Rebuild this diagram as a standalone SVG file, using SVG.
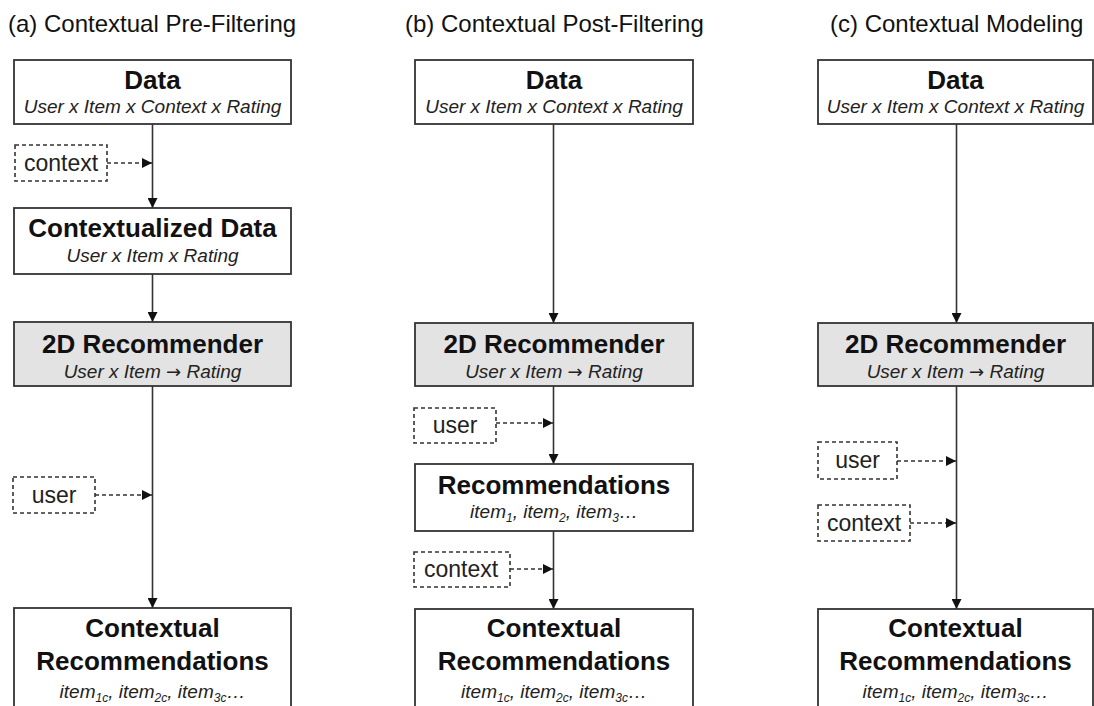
<svg xmlns="http://www.w3.org/2000/svg" width="1094" height="706" viewBox="0 0 1094 706">
  <defs>
    <style>
      text { font-family: "Liberation Sans", Arial, sans-serif; fill: #111; }
      .hdr { font-size: 24px; }
      .ttl { font-size: 26px; font-weight: bold; text-anchor: middle; }
      .sub { font-size: 19px; font-style: italic; text-anchor: middle; fill: #222; }
      .sm { font-size: 12px; }
      .arw { font-family: "DejaVu Sans", sans-serif; font-style: normal; font-size: 18px; }
      .lbl { font-size: 23px; text-anchor: middle; fill: #222; }
      .box { fill: #fff; stroke: #333; stroke-width: 1.8; }
      .gray { fill: #e3e3e3; }
      .dbox { fill: #fff; stroke: #333; stroke-width: 1.6; stroke-dasharray: 4 3; }
      .flow { stroke: #333; stroke-width: 1.6; fill: none; marker-end: url(#arr); }
      .dflow { stroke: #333; stroke-width: 1.6; fill: none; stroke-dasharray: 4 3; marker-end: url(#arr); }
    </style>
    <marker id="arr" viewBox="0 0 10 10" refX="10" refY="5" markerWidth="10" markerHeight="10" markerUnits="userSpaceOnUse" orient="auto">
      <path d="M0,0 L10,5 L0,10 z" fill="#111"/>
    </marker>
  </defs>

  <!-- column headings -->
  <text class="hdr" x="8" y="32">(a) Contextual Pre-Filtering</text>
  <text class="hdr" x="405" y="32">(b) Contextual Post-Filtering</text>
  <text class="hdr" x="830" y="32">(c) Contextual Modeling</text>

  <!-- connectors -->
  <g id="connectors">
    <!-- (a) -->
    <line class="flow" x1="152.5" y1="124" x2="152.5" y2="208"/>
    <line class="flow" x1="152.5" y1="274" x2="152.5" y2="322"/>
    <line class="flow" x1="152.5" y1="386" x2="152.5" y2="608"/>
    <line class="dflow" x1="107" y1="163" x2="152" y2="163"/>
    <line class="dflow" x1="95" y1="495" x2="152" y2="495"/>
    <!-- (b) -->
    <line class="flow" x1="553.5" y1="124" x2="553.5" y2="323"/>
    <line class="flow" x1="553.5" y1="386" x2="553.5" y2="464"/>
    <line class="flow" x1="553.5" y1="531" x2="553.5" y2="609"/>
    <line class="dflow" x1="496" y1="423" x2="553" y2="423"/>
    <line class="dflow" x1="510" y1="569" x2="553" y2="569"/>
    <!-- (c) -->
    <line class="flow" x1="956.5" y1="124" x2="956.5" y2="323"/>
    <line class="flow" x1="956.5" y1="386" x2="956.5" y2="609"/>
    <line class="dflow" x1="897" y1="461" x2="956" y2="461"/>
    <line class="dflow" x1="910" y1="523" x2="956" y2="523"/>
  </g>

  <!-- (a) Contextual Pre-Filtering -->
  <g id="a-data">
    <rect class="box" x="14" y="60" width="277" height="64"/>
    <text class="ttl" x="152.5" y="89">Data</text>
    <text class="sub" x="152.5" y="113">User x Item x Context x Rating</text>
  </g>
  <g id="a-context">
    <rect class="dbox" x="15" y="145" width="92" height="36"/>
    <text class="lbl" x="61" y="171">context</text>
  </g>
  <g id="a-contextualized">
    <rect class="box" x="14" y="208" width="277" height="66"/>
    <text class="ttl" x="152.5" y="237">Contextualized Data</text>
    <text class="sub" x="152.5" y="262">User x Item x Rating</text>
  </g>
  <g id="a-recommender">
    <rect class="box gray" x="14" y="322" width="277" height="64"/>
    <text class="ttl" x="152.5" y="353">2D Recommender</text>
    <text class="sub" x="152.5" y="378">User x Item <tspan class="arw">→</tspan> Rating</text>
  </g>
  <g id="a-user">
    <rect class="dbox" x="13" y="477" width="82" height="36"/>
    <text class="lbl" x="54" y="503">user</text>
  </g>
  <g id="a-result">
    <rect class="box" x="14" y="608" width="277" height="110"/>
    <text class="ttl" x="152.5" y="637">Contextual</text>
    <text class="ttl" x="152.5" y="670">Recommendations</text>
    <text class="sub" x="152.5" y="698">item<tspan class="sm" dy="4">1c</tspan><tspan dy="-4">, item</tspan><tspan class="sm" dy="4">2c</tspan><tspan dy="-4">, item</tspan><tspan class="sm" dy="4">3c</tspan><tspan dy="-4">…</tspan></text>
  </g>

  <!-- (b) Contextual Post-Filtering -->
  <g id="b-data">
    <rect class="box" x="415" y="60" width="278" height="64"/>
    <text class="ttl" x="554" y="89">Data</text>
    <text class="sub" x="554" y="113">User x Item x Context x Rating</text>
  </g>
  <g id="b-recommender">
    <rect class="box gray" x="415" y="323" width="278" height="63"/>
    <text class="ttl" x="554" y="353">2D Recommender</text>
    <text class="sub" x="554" y="378">User x Item <tspan class="arw">→</tspan> Rating</text>
  </g>
  <g id="b-user">
    <rect class="dbox" x="414" y="408" width="82" height="35"/>
    <text class="lbl" x="455" y="433">user</text>
  </g>
  <g id="b-recommendations">
    <rect class="box" x="415" y="464" width="278" height="67"/>
    <text class="ttl" x="554" y="494">Recommendations</text>
    <text class="sub" x="554" y="518">item<tspan class="sm" dy="4">1</tspan><tspan dy="-4">, item</tspan><tspan class="sm" dy="4">2</tspan><tspan dy="-4">, item</tspan><tspan class="sm" dy="4">3</tspan><tspan dy="-4">…</tspan></text>
  </g>
  <g id="b-context">
    <rect class="dbox" x="414" y="552" width="96" height="35"/>
    <text class="lbl" x="461" y="577">context</text>
  </g>
  <g id="b-result">
    <rect class="box" x="415" y="609" width="278" height="110"/>
    <text class="ttl" x="554" y="637">Contextual</text>
    <text class="ttl" x="554" y="670">Recommendations</text>
    <text class="sub" x="554" y="698">item<tspan class="sm" dy="4">1c</tspan><tspan dy="-4">, item</tspan><tspan class="sm" dy="4">2c</tspan><tspan dy="-4">, item</tspan><tspan class="sm" dy="4">3c</tspan><tspan dy="-4">…</tspan></text>
  </g>

  <!-- (c) Contextual Modeling -->
  <g id="c-data">
    <rect class="box" x="818" y="60" width="275" height="64"/>
    <text class="ttl" x="955.5" y="89">Data</text>
    <text class="sub" x="955.5" y="113">User x Item x Context x Rating</text>
  </g>
  <g id="c-recommender">
    <rect class="box gray" x="818" y="323" width="275" height="63"/>
    <text class="ttl" x="955.5" y="353">2D Recommender</text>
    <text class="sub" x="955.5" y="378">User x Item <tspan class="arw">→</tspan> Rating</text>
  </g>
  <g id="c-user">
    <rect class="dbox" x="818" y="442" width="79" height="37"/>
    <text class="lbl" x="857.5" y="468">user</text>
  </g>
  <g id="c-context">
    <rect class="dbox" x="818" y="505" width="92" height="36"/>
    <text class="lbl" x="864" y="531">context</text>
  </g>
  <g id="c-result">
    <rect class="box" x="818" y="609" width="275" height="110"/>
    <text class="ttl" x="955.5" y="637">Contextual</text>
    <text class="ttl" x="955.5" y="670">Recommendations</text>
    <text class="sub" x="955.5" y="698">item<tspan class="sm" dy="4">1c</tspan><tspan dy="-4">, item</tspan><tspan class="sm" dy="4">2c</tspan><tspan dy="-4">, item</tspan><tspan class="sm" dy="4">3c</tspan><tspan dy="-4">…</tspan></text>
  </g>
</svg>
